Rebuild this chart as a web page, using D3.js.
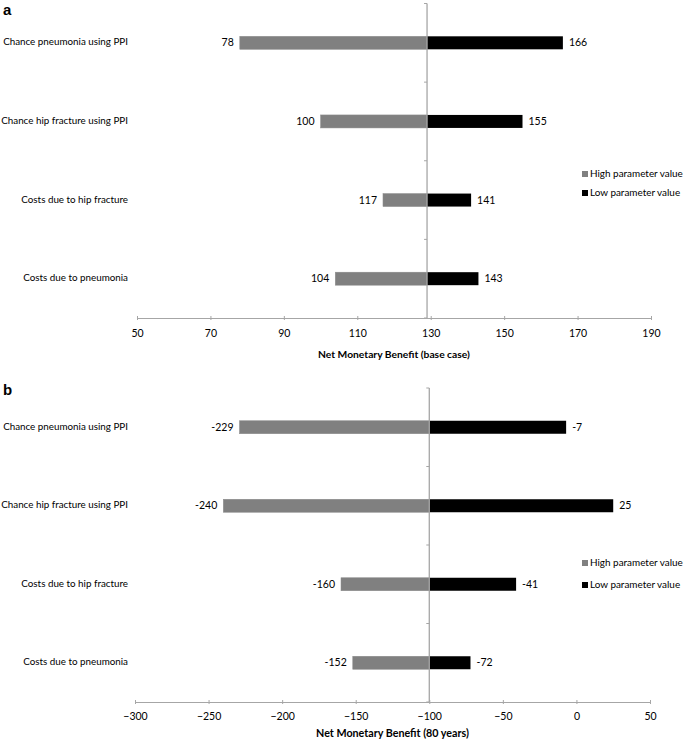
<!DOCTYPE html>
<html>
<head>
<meta charset="utf-8">
<script src="https://cdn.jsdelivr.net/npm/d3@7"></script>
<style>
  html, body { margin: 0; padding: 0; background: #fff; }
  svg { display: block; }
  text { font-family: Lato, "Open Sans", sans-serif; fill: #000; }
</style>
</head>
<body>
<svg id="chart" width="685" height="741"></svg>
<script>
// ---------- data ----------
const categories = [
  "Chance pneumonia using PPI",
  "Chance hip fracture using PPI",
  "Costs due to hip fracture",
  "Costs due to pneumonia"
];
const seriesNames = ["High parameter value", "Low parameter value"];

// Panel a: base case
const highA = [78, 100, 117, 104];
const lowA  = [166, 155, 141, 143];
const baseA = 129;
const ticksA = [50, 70, 90, 110, 130, 150, 170, 190];
const titleA = "Net Monetary Benefit (base case)";

// Panel b: 80 years
const highB = [-229, -240, -160, -152];
const lowB  = [-7, 25, -41, -72];
const baseB = -100;
const ticksB = [-300, -250, -200, -150, -100, -50, 0, 50];
const titleB = "Net Monetary Benefit (80 years)";

// ---------- drawing ----------
const svg = d3.select("#chart");
const colHigh = "#808080";
const colLow = "#000000";
const axisCol = "#a6a6a6";

// font size that makes a text span the target width
function fitText(sel, baseSize, target) {
  sel.style("font-size", baseSize + "px");
  const w = sel.node().getComputedTextLength();
  return baseSize * target / w;
}

function panel(opt) {
  const g = svg.append("g");
  const x = d3.scaleLinear()
    .domain([opt.ticks[0], opt.ticks[opt.ticks.length - 1]])
    .range(opt.xRange);
  const y = d3.scaleBand().domain(categories).range([opt.top, opt.bottom]).padding(0);
  const barH = 13;

  // panel letter
  g.append("text").attr("x", 3).attr("y", opt.letterY)
    .style("font-family", "'Liberation Sans', Arial, sans-serif")
    .style("font-weight", "bold").style("font-size", "15px")
    .text(opt.letter);

  const catLabels = [];
  categories.forEach((c, i) => {
    const cy = y(c) + y.bandwidth() / 2;
    const hv = opt.high[i], lv = opt.low[i];
    g.append("rect")
      .attr("x", x(Math.min(hv, opt.base)))
      .attr("y", cy - barH / 2)
      .attr("width", Math.abs(x(opt.base) - x(hv)))
      .attr("height", barH)
      .attr("fill", colHigh)
      .attr("stroke", "#8c8c8c").attr("stroke-width", 0.5);
    g.append("rect")
      .attr("x", x(Math.min(lv, opt.base)))
      .attr("y", cy - barH / 2)
      .attr("width", Math.abs(x(lv) - x(opt.base)))
      .attr("height", barH)
      .attr("fill", colLow);
    g.append("text")
      .attr("x", x(hv) - 6).attr("y", cy).attr("dy", "0.35em")
      .attr("text-anchor", "end").style("font-size", "10.5px")
      .text(hv);
    g.append("text")
      .attr("x", x(lv) + 6).attr("y", cy).attr("dy", "0.35em")
      .attr("text-anchor", "start").style("font-size", "10.5px")
      .text(lv);
    catLabels.push(g.append("text")
      .attr("x", 128).attr("y", cy - 1).attr("dy", "0.35em")
      .attr("text-anchor", "end")
      .text(c));
  });
  const catSize = fitText(catLabels[0], 10, 125);
  catLabels.forEach(t => t.style("font-size", catSize + "px"));

  // vertical axis at base value
  const bx = x(opt.base);
  g.append("line")
    .attr("x1", bx).attr("x2", bx)
    .attr("y1", opt.top).attr("y2", opt.bottom + 1)
    .attr("stroke", axisCol).attr("stroke-width", 1.3);
  const bounds = categories.map(c => y(c)).concat([opt.bottom]);
  bounds.forEach(b => {
    g.append("line")
      .attr("x1", bx - 3).attr("x2", bx)
      .attr("y1", b).attr("y2", b)
      .attr("stroke", axisCol).attr("stroke-width", 1);
  });

  // horizontal axis
  const axis = d3.axisBottom(x).tickValues(opt.ticks).tickSize(3).tickSizeOuter(0).tickPadding(opt.labelPad);
  const ag = g.append("g").attr("transform", `translate(0,${opt.bottom})`).call(axis);
  ag.select(".domain").attr("stroke", axisCol).attr("stroke-width", 1.2);
  ag.selectAll(".tick line").attr("stroke", axisCol).attr("y1", -2).attr("y2", 2);
  ag.selectAll(".tick text")
    .style("font-family", "Lato, 'Open Sans', sans-serif")
    .style("font-size", "10.5px").attr("fill", "#000");

  const title = g.append("text")
    .attr("x", (opt.xRange[0] + opt.xRange[1]) / 2)
    .attr("y", opt.bottom + opt.titleOff)
    .attr("text-anchor", "middle")
    .style("font-weight", "bold")
    .text(opt.title);
  title.style("font-size", fitText(title, 10, opt.titleW) + "px");

  // legend
  const legTexts = [];
  seriesNames.forEach((s, i) => {
    const ly = opt.legendY[i];
    g.append("rect").attr("x", 582).attr("y", ly - 3).attr("width", 6).attr("height", 6)
      .attr("fill", i === 0 ? colHigh : colLow);
    legTexts.push(g.append("text").attr("x", 590).attr("y", ly).attr("dy", "0.35em")
      .text(s));
  });
  const legSize = fitText(legTexts[0], 10, 93);
  legTexts.forEach(t => t.style("font-size", legSize + "px"));
}

panel({ letter: "a", letterY: 15, top: 3.5, bottom: 318, xRange: [137, 651],
        high: highA, low: lowA, base: baseA,
        ticks: ticksA, title: titleA, titleW: 152, labelPad: 9, titleOff: 40, legendY: [174, 193] });
panel({ letter: "b", letterY: 395, top: 388, bottom: 702, xRange: [135, 650],
        high: highB, low: lowB, base: baseB,
        ticks: ticksB, title: titleB, titleW: 153, labelPad: 8, titleOff: 35, legendY: [563, 585] });
</script>
</body>
</html>
